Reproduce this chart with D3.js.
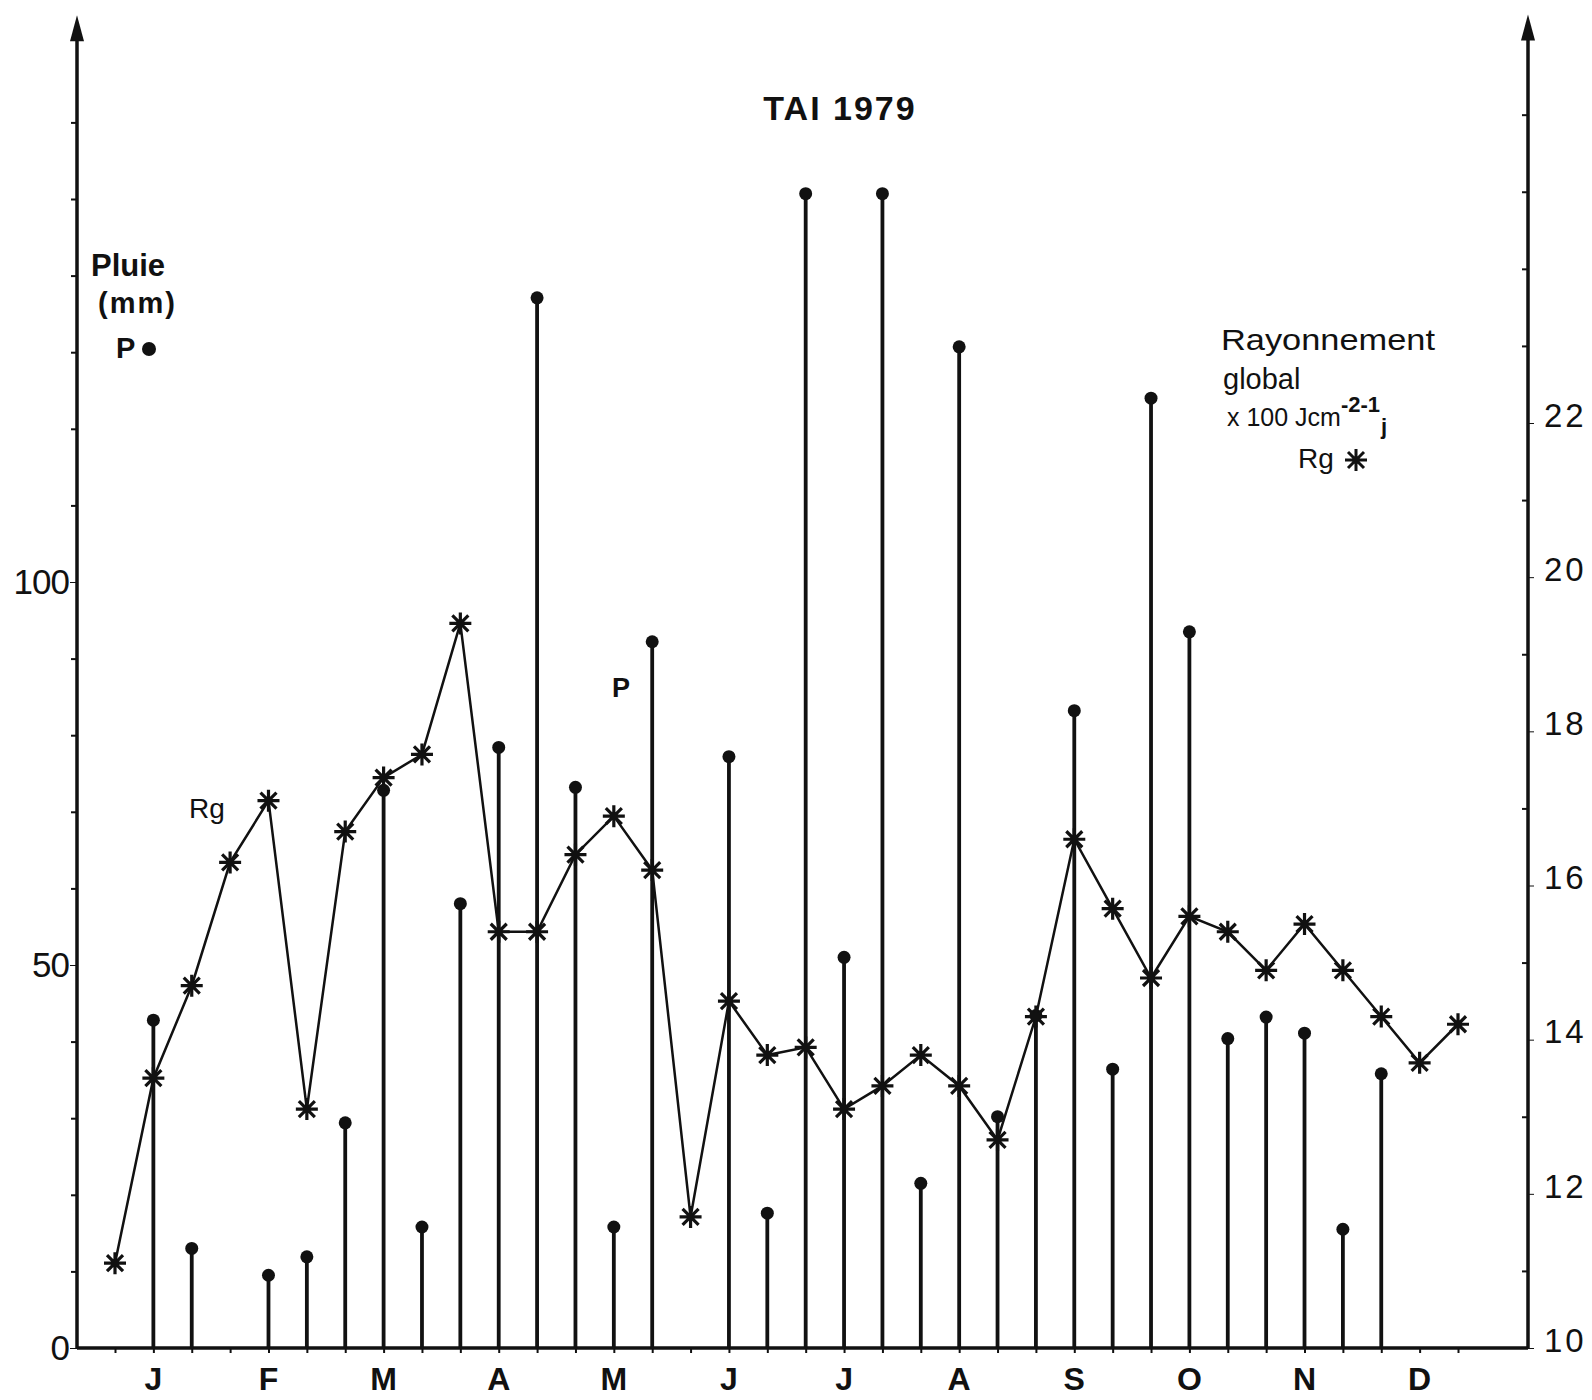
<!DOCTYPE html>
<html>
<head>
<meta charset="utf-8">
<title>TAI 1979</title>
<script src="https://cdn.jsdelivr.net/npm/d3@7/dist/d3.min.js"></script>
<style>
	body { margin: 0; background: #fff; }
	svg { display: block; }
	text { font-family: "Liberation Sans", Arial, Helvetica, sans-serif; fill: #111; }
	.axis text { font-size: 35px; }
	.axis line, .axis path { stroke: #111; }
	.month { font-size: 32px; font-weight: bold; }
</style>
</head>
<body>
<div id="chart"></div>
<script>
// month initials (3 decades per month)
var months = ["J", "F", "M", "A", "M", "J", "J", "A", "S", "O", "N", "D"];
var decadeNames = ["d1", "d2", "d3"];

// rain per decade, mm (null = no rain)
var rain = [null, 42.8, 13.0, null, 9.5, 11.9, 29.4, 72.8, 15.8, 58.0, 78.4, 137.1,
	73.2, 15.8, 92.2, null, 77.2, 17.6, 150.7, 51.0, 150.7, 21.5, 130.7, 30.2,
	43.4, 83.2, 36.4, 124.0, 93.5, 40.4, 43.2, 41.1, 15.5, 35.8, null, null];

// global radiation per decade, x 100 J cm-2 j-1
var rg = [11.1, 13.5, 14.7, 16.3, 17.1, 13.1, 16.7, 17.4, 17.7, 19.4, 15.4, 15.4,
	16.4, 16.9, 16.2, 11.7, 14.5, 13.8, 13.9, 13.1, 13.4, 13.8, 13.4, 12.7,
	14.3, 16.6, 15.7, 14.8, 15.6, 15.4, 14.9, 15.5, 14.9, 14.3, 13.7, 14.2];

var rainLabels = [0, 50, 100];
var rainTicks = [10, 20, 30, 40, 60, 70, 80, 90, 110, 120, 130, 140, 150, 160];
var rgLabels = [10, 12, 14, 16, 18, 20, 22];
var rgTicks = [11, 13, 15, 17, 19, 21, 23, 24, 25, 26];

var width = 1592, height = 1400;
var xLeft = 77, xRight = 1528, yBase = 1348;

var svg = d3.select("#chart").append("svg")
	.attr("width", width)
	.attr("height", height);

// one key per decade
var keys = [];
months.forEach(function(m, i) {
	decadeNames.forEach(function(d) { keys.push(i + "-" + d); });
});

var x = d3.scalePoint()
	.domain(keys)
	.range([115, 1458]);

var yP = d3.scaleLinear()
	.domain([0, 100])
	.range([yBase, 582]);

var yR = d3.scaleLinear()
	.domain([10, 22])
	.range([yBase, 423]);

//left axis : labels, then minor ticks
svg.append("g")
	.attr("class", "axis")
	.attr("transform", "translate(" + xLeft + ",0)")
	.call(d3.axisLeft(yP).tickValues(rainLabels).tickSize(7).tickPadding(1).tickFormat(d3.format("d")))
	.call(function(g) { g.select(".domain").remove(); g.selectAll("text").style("letter-spacing", "-1px"); });

svg.append("g")
	.attr("class", "axis")
	.attr("transform", "translate(" + xLeft + ",0)")
	.call(d3.axisLeft(yP).tickValues(rainTicks).tickSize(6).tickFormat(""))
	.call(function(g) { g.select(".domain").remove(); g.selectAll("line").attr("stroke-width", 2); });

//right axis
var rAxis = svg.append("g")
	.attr("class", "axis")
	.attr("transform", "translate(" + xRight + ",0)")
	.call(d3.axisRight(yR).tickValues(rgLabels).tickSize(6).tickPadding(10).tickFormat(d3.format("d")))
	.call(function(g) { g.select(".domain").remove(); });
rAxis.selectAll("text")
	.attr("dy", "0.1em")
	.style("font-size", "33px")
	.style("letter-spacing", "3px");

svg.append("g")
	.attr("class", "axis")
	.attr("transform", "translate(" + xRight + ",0)")
	.call(d3.axisLeft(yR).tickValues(rgTicks).tickSize(6).tickFormat(""))
	.call(function(g) { g.select(".domain").remove(); g.selectAll("line").attr("stroke-width", 2); });

//vertical axis lines with arrows
var yTopL = yP(174), yTopR = yR(27.3);
svg.append("line")
	.attr("x1", xLeft).attr("x2", xLeft)
	.attr("y1", yBase).attr("y2", yTopL + 10)
	.attr("stroke", "#111").attr("stroke-width", 3.5);
svg.append("path")
	.attr("d", "M" + xLeft + "," + yTopL + "L" + (xLeft - 7) + "," + (yTopL + 26) + "L" + (xLeft + 7) + "," + (yTopL + 26) + "Z")
	.attr("fill", "#111");
svg.append("line")
	.attr("x1", xRight).attr("x2", xRight)
	.attr("y1", yBase).attr("y2", yTopR + 10)
	.attr("stroke", "#111").attr("stroke-width", 3.5);
svg.append("path")
	.attr("d", "M" + xRight + "," + yTopR + "L" + (xRight - 7) + "," + (yTopR + 26) + "L" + (xRight + 7) + "," + (yTopR + 26) + "Z")
	.attr("fill", "#111");

//bottom axis : small ticks at each decade, month names on the middle decade
svg.append("g")
	.attr("class", "axis")
	.attr("transform", "translate(0," + yBase + ")")
	.call(d3.axisBottom(x).tickSize(5).tickFormat(""))
	.call(function(g) { g.select(".domain").remove(); g.selectAll("line").attr("stroke-width", 2); });

svg.append("line")
	.attr("x1", xLeft).attr("x2", xRight)
	.attr("y1", yBase).attr("y2", yBase)
	.attr("stroke", "#111").attr("stroke-width", 3.5);

svg.selectAll("text.month").data(months).enter().append("text")
	.attr("class", "month")
	.attr("x", function(d, i) { return x(i + "-d2"); })
	.attr("y", yBase + 42)
	.attr("text-anchor", "middle")
	.text(function(d) { return d; });

//rain stems
var rainData = rain.map(function(v, i) { return { key: keys[i], value: v }; })
	.filter(function(d) { return d.value !== null; });

svg.append("g").selectAll("line").data(rainData).enter().append("line")
	.attr("x1", function(d) { return x(d.key); })
	.attr("x2", function(d) { return x(d.key); })
	.attr("y1", yBase)
	.attr("y2", function(d) { return yP(d.value); })
	.attr("stroke", "#111")
	.attr("stroke-width", 3.8);

svg.append("g").selectAll("circle").data(rainData).enter().append("circle")
	.attr("cx", function(d) { return x(d.key); })
	.attr("cy", function(d) { return yP(d.value); })
	.attr("r", 6.5)
	.attr("fill", "#111");

//Rg line + asterisks
var rgData = rg.map(function(v, i) { return { key: keys[i], value: v }; });

var line = d3.line()
	.x(function(d) { return x(d.key); })
	.y(function(d) { return yR(d.value); });

svg.append("path")
	.datum(rgData)
	.attr("d", line)
	.attr("fill", "none")
	.attr("stroke", "#111")
	.attr("stroke-width", 2.5);

var star = "M-11,0L11,0M0,-11L0,11M-8,-8L8,8M-8,8L8,-8";

svg.append("g").selectAll("path").data(rgData).enter().append("path")
	.attr("transform", function(d) { return "translate(" + x(d.key) + "," + yR(d.value) + ")"; })
	.attr("d", star)
	.attr("stroke", "#111")
	.attr("stroke-width", 3.2)
	.attr("fill", "none");

//title and legends
svg.append("text")
	.attr("x", 840).attr("y", 120)
	.attr("text-anchor", "middle")
	.style("font-size", "34px").style("font-weight", "bold").style("letter-spacing", "2px")
	.text("TAI 1979");

svg.append("text")
	.attr("x", 91).attr("y", 276)
	.style("font-size", "31px").style("font-weight", "bold")
	.text("Pluie");
svg.append("text")
	.attr("x", 98).attr("y", 313)
	.style("font-size", "29px").style("font-weight", "bold").style("letter-spacing", "2px")
	.text("(mm)");
svg.append("text")
	.attr("x", 116).attr("y", 358)
	.style("font-size", "29px").style("font-weight", "bold")
	.text("P");
svg.append("circle")
	.attr("cx", 149).attr("cy", 349).attr("r", 7)
	.attr("fill", "#111");

svg.append("text")
	.attr("x", 1221).attr("y", 350)
	.style("font-size", "30px")
	.attr("textLength", 214)
	.attr("lengthAdjust", "spacingAndGlyphs")
	.text("Rayonnement");
svg.append("text")
	.attr("x", 1223).attr("y", 389)
	.style("font-size", "29px")
	.text("global");
var unit = svg.append("text")
	.attr("x", 1227).attr("y", 426)
	.style("font-size", "25px");
unit.append("tspan").text("x 100 Jcm");
unit.append("tspan").attr("dy", -14).style("font-size", "22px").style("font-weight", "bold").text("-2-1");
svg.append("text")
	.attr("x", 1381).attr("y", 434)
	.style("font-size", "22px").style("font-weight", "bold")
	.text("j");
svg.append("text")
	.attr("x", 1298).attr("y", 468)
	.style("font-size", "28px")
	.text("Rg");
svg.append("path")
	.attr("transform", "translate(1356,460)")
	.attr("d", star)
	.attr("stroke", "#111")
	.attr("stroke-width", 3)
	.attr("fill", "none");

//in-plot labels
svg.append("text")
	.attr("x", 189).attr("y", 818)
	.style("font-size", "28px")
	.text("Rg");
svg.append("text")
	.attr("x", 612).attr("y", 697)
	.style("font-size", "27px").style("font-weight", "bold")
	.text("P");
</script>
</body>
</html>
